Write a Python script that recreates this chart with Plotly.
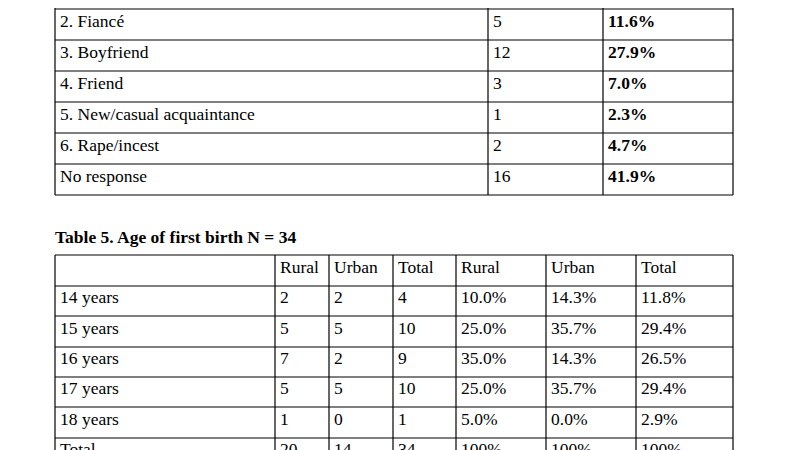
import plotly.graph_objects as go

# Table 4 (partial)
t4_labels = ["2. Fiancé", "3. Boyfriend", "4. Friend", "5. New/casual acquaintance", "6. Rape/incest", "No response"]
t4_counts = ["5", "12", "3", "1", "2", "16"]
t4_pcts = ["11.6%", "27.9%", "7.0%", "2.3%", "4.7%", "41.9%"]

# Table 5
t5_title = "Table 5. Age of first birth N = 34"
t5_header = ["", "Rural", "Urban", "Total", "Rural", "Urban", "Total"]
t5_rows = ["14 years", "15 years", "16 years", "17 years", "18 years", "Total"]
t5_rural = ["2", "5", "7", "5", "1", "20"]
t5_urban = ["2", "5", "2", "5", "0", "14"]
t5_total = ["4", "10", "9", "10", "1", "34"]
t5_rural_pct = ["10.0%", "25.0%", "35.0%", "25.0%", "5.0%", "100%"]
t5_urban_pct = ["14.3%", "35.7%", "14.3%", "35.7%", "0.0%", "100%"]
t5_total_pct = ["11.8%", "29.4%", "26.5%", "29.4%", "2.9%", "100%"]

FONT = "Liberation Serif"
OFF = 8  # page body margin
shapes, ann = [], []
def line(x0, y0, x1, y1, w=1.2):
    shapes.append(dict(type="line", x0=x0 - OFF, y0=y0 - OFF, x1=x1 - OFF, y1=y1 - OFF,
                       line=dict(color="black", width=w)))
def text(x, y, s, bold=False, size=17.5):
    ann.append(dict(x=x - OFF, y=y - OFF, text=f"<b>{s}</b>" if bold else s, showarrow=False, xanchor="left",
                    yanchor="middle", font=dict(family=FONT, size=size, color="black")))

# Table 4 grid
c4 = [55, 488, 603, 733]
r4 = [9 + 31 * i for i in range(7)]
for y in r4:
    line(c4[0], y, c4[-1], y)
for x in c4:
    line(x, -10, x, r4[-1])
for i in range(6):
    yc = (r4[i] + r4[i + 1]) / 2 - 4
    text(c4[0] + 3, yc, t4_labels[i])
    text(c4[1] + 3, yc, t4_counts[i])
    text(c4[2] + 3, yc, t4_pcts[i], bold=True)

# Table 5
text(53, 237, t5_title, bold=True)
c5 = [55, 275, 329, 393, 456, 546, 636, 733]
r5 = [255, 286, 316, 347, 377, 407, 438]
for y in r5:
    line(c5[0], y, c5[-1], y)
for x in c5:
    line(x, r5[0], x, 470)
cols = [t5_rows, t5_rural, t5_urban, t5_total, t5_rural_pct, t5_urban_pct, t5_total_pct]
for j, h in enumerate(t5_header):
    if h:
        text(c5[j] + 3, (r5[0] + r5[1]) / 2 - 4, h)
for i in range(6):
    yc = (r5[i + 1] + (r5[i + 2] if i + 2 < len(r5) else r5[i + 1] + 30)) / 2 - 4
    for j, col in enumerate(cols):
        text(c5[j] + 3, yc, col[i])

fig = go.Figure()
fig.update_layout(width=800, height=450, margin=dict(l=0, r=0, t=0, b=0),
                  plot_bgcolor="white", paper_bgcolor="white", shapes=shapes, annotations=ann,
                  xaxis=dict(range=[0, 800], visible=False, fixedrange=True),
                  yaxis=dict(range=[450, 0], visible=False, fixedrange=True),
                  showlegend=False)
fig.write_html("out.html")
